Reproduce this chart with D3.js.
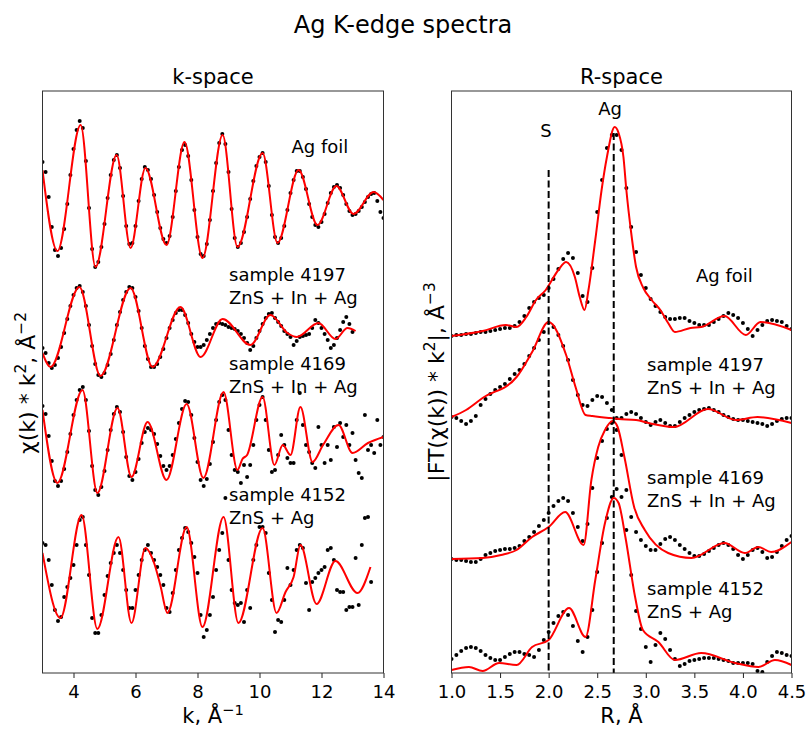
<!DOCTYPE html>
<html>
<head>
<meta charset="utf-8">
<script src="https://cdn.jsdelivr.net/npm/d3@7"></script>
<style>
  body { margin: 0; background: #fff; }
  text { font-family: "DejaVu Sans", sans-serif; fill: #000; }
</style>
</head>
<body>
<svg id="chart" width="806" height="730"></svg>
<script>
// ---------- k-space: chi(k)*k^2, experimental points (step 0.1 from k = 3) ----------
const kStart = 3.0, kStep = 0.1;
const agFoilK = [3.4,2.4,-0.1,-3.1,-5.4, -6.0,-5.2,-3.3,-0.8,2.1, 4.7,6.6,7.5,6.8,3.5,
  -1.2,-5.3,-7.1,-6.6,-5.1, -2.8,-0.2,2.1,3.6,4.1, 2.8,0.0,-3.0,-4.8,-4.7,
  -3.0,-0.5,1.7,2.9,2.6, 1.7,0.1,-1.6,-3.2,-4.3, -4.7,-4.0,-2.1,0.5,2.9,
  4.6,5.1,4.0,1.6,-1.4, -4.1,-5.8,-6.0,-4.8,-2.4, 0.5,3.3,5.3,6.2,5.2,
  2.4,-1.3,-4.2,-5.1,-4.7, -3.6,-2.1,-0.3,1.5,3.0, 3.9,4.3,3.4,1.0,-1.9,
  -4.1,-4.7,-4.2,-3.0,-1.4, 0.3,1.6,2.5,2.5,1.9, 0.7,-0.8,-2.1,-2.9,-3.1,
  -2.6,-1.8,-0.7,0.3,0.9, 1.1,0.8,0.1,-0.8,-1.5, -1.9,-1.8,-1.5,-1.1,-0.6,
  -0.1,0.2,0.3,-0.5,-1.6, -2.2];
const s4197K = [-1.5,-2.0,-3.0,-3.5,-3.2, -2.5,-1.4,0.0,1.4,2.7, 3.8,4.5,4.7,4.1,2.7,
  0.8,-1.3,-3.1,-4.2,-4.4, -4.0,-3.2,-2.1,-0.7,0.8, 2.1,3.3,4.1,4.6,4.5,
  3.6,2.2,0.5,-1.3,-2.6, -3.4,-3.4,-3.1,-2.4,-1.6, -0.5,0.5,1.3,2.0,2.3,
  2.3,1.8,1.0,-0.1,-0.9, -1.4,-1.4,-1.2,-0.7,-0.1, 0.5,0.9,1.0,0.9,0.8,
  0.6,0.5,0.4,0.2,-0.1, -0.5,-1.0,-1.7,-1.3,-0.5, 0.2,0.9,1.5,1.9,2.0,
  1.5,1.1,0.7,0.2,-0.1, -0.4,-1.2,-0.8,-0.4,-0.3, -0.2,-0.1,0.5,1.3,1.0,
  0.5,-0.1,-0.7,-1.5,-1.2, -0.5,0.3,1.1,1.6,0.9, 0.1];
const s4169K = [3.4,2.6,0.4,-2.1,-4.1, -4.6,-4.1,-2.9,-1.2,0.6, 2.5,4.0,5.0,5.3,4.0,
  0.9,-2.6,-5.0,-5.5,-4.7, -3.1,-1.0,1.0,2.6,3.3, 2.8,0.8,-1.7,-3.6,-4.0,
  -3.2,-1.9,-0.3,0.8,1.2, 1.0,0.6,-0.4,-1.6,-2.6, -3.0,-2.6,-1.5,0.1,1.7,
  3.1,3.9,3.8,2.5,0.2, -2.2,-4.0,-4.6,-3.9,-2.4, -0.2,2.0,3.8,4.5,4.0,
  1.0,-1.5,-3.0,-3.2,-4.3, -2.5,-3.7,-2.5,-0.5,2.0, 3.5,4.3,2.0,-1.0,-3.2,
  -3.0,-1.5,0.5,-0.5,-1.8, -2.3,-2.3,2.0,4.7,1.5, -0.5,-1.2,-2.3,-2.8,1.3,
  -0.5,-2.3,-0.5,-2.0,1.3, -0.7,1.7,0.3,1.5,-0.5, 0.7,-2.0,-3.3,-3.8,2.5,
  -1.0,-0.5,-1.3,2.0,-0.5, 0.3];
const s4152K = [3.2,3.0,1.5,-1.0,-3.5, -4.6,-4.2,-2.2,-1.2,-0.3, 1.0,3.0,5.5,5.8,3.0,
  0.0,-4.3,-5.8,-5.8,-4.0, -2.0,-0.1,1.2,2.2,3.0, 2.2,0.5,-1.5,-3.3,-3.3,
  -1.5,0.0,1.5,2.5,3.0, 2.2,1.5,0.8,0.0,-1.0, -3.3,-3.7,-1.8,0.5,2.5,
  3.7,4.7,4.3,3.2,1.8, 0.2,-4.0,-6.2,-5.5,-4.0, -2.2,0.5,2.5,4.2,7.7,
  1.5,-1.5,-2.8,-3.0,-2.8, -4.7,-1.5,-3.3,1.5,3.0, 4.8,4.8,4.2,0.2,-2.5,
  -5.7,-4.5,-4.7,-2.5,0.7, -1.0,0.5,2.5,3.0,2.7, -0.8,-3.5,-0.7,-0.3,0.2,
  0.5,0.8,2.5,2.7,1.5, -1.5,-1.7,-1.7,-3.5,-3.2, -3.2,1.7,-3.0,3.0,5.7,
  5.8,-0.7];

// k-space fits (knots at extrema)
const agFoilFitK = [3.0,3.48,4.23,4.71,5.39,5.84,6.32,7.0,7.58,8.16,8.81,9.29,10.1,10.58,11.26,11.87,12.48,13.03,13.68,14.0];
const agFoilFit  = [2.6,-5.5,7.1,-7.1,4.1,-5.2,2.8,-4.9,5.4,-6.2,6.1,-5.1,4.3,-4.7,2.6,-2.9,1.0,-1.8,0.4,-0.4];
const s4197FitK = [3.0,3.26,4.19,4.87,5.84,6.55,7.45,8.10,8.81,9.71,10.35,10.9,11.2,11.9,12.45,12.84,13.1];
const s4197Fit  = [-2.0,-3.4,4.6,-4.3,4.5,-3.4,2.6,-2.4,1.4,-1.2,1.8,0.0,-0.4,1.0,-0.6,0.5,0.2];
const s4169FitK = [3.0,3.48,4.29,4.77,5.42,5.87,6.39,7.0,7.65,8.19,8.84,9.29,9.45,9.6,10.1,10.48,10.75,11.0,11.32,11.71,12.05,12.55,13.0,13.5,14.0];
const s4169Fit  = [3.0,-4.3,5.0,-5.3,3.2,-3.7,1.8,-4.0,3.6,-3.8,4.8,-3.0,-1.9,-1.5,4.3,-2.5,-0.5,-1.5,3.3,-2.2,-0.5,1.5,-1.3,-0.3,0.3];
const s4152FitK = [3.0,3.58,4.26,4.77,5.45,5.87,6.32,6.6,6.8,7.03,7.65,8.16,8.84,9.32,10.1,10.55,10.84,11.1,11.32,11.84,12.45,13.16,13.58];
const s4152Fit  = [2.2,-4.3,6.0,-5.4,3.8,-4.8,2.7,1.2,-1.0,-3.8,4.8,-5.2,5.8,-4.8,4.7,-3.8,-1.7,-0.2,3.0,-2.9,1.4,-1.8,0.8];

// ---------- R-space: |FT(chi(k)*k^2)|, experimental points (step 0.05 from R = 1) ----------
const rStart = 1.0, rStep = 0.05;
const agFoilR = [0.4,0.5,0.5,0.6,0.6, 0.7,0.8,0.8,0.9,1.0, 1.1,1.2,1.2,1.4,1.8,
  2.4,3.2,3.8,4.2,4.5, 5.2,6.1,7.1,8.1,8.7, 8.2,6.7,4.4,3.8,7.2,
  12.8,16.0,19.2,20.5,20.5, 19.0,15.2,11.3,8.8,6.5, 5.2,4.1,3.4,2.8,2.3,
  2.1,2.1,2.2,2.2,1.9, 1.7,1.5,1.5,1.5,1.8, 2.1,2.4,2.7,2.5,2.2,
  1.7,1.1,0.4,1.0,1.5, 1.9,2.0,1.9,1.8,1.4, 1.1];
const s4197R = [1.3,1.2,0.9,0.6,0.9, 1.4,2.5,3.1,3.6,4.0, 4.3,4.6,5.1,5.6,6.0,
  6.6,7.4,8.2,9.0,9.8, 10.7,10.3,9.5,8.4,7.0, 5.0,3.5,2.5,2.4,3.0,
  3.4,3.3,2.7,2.0,1.2, 1.2,1.6,1.8,1.6,1.2, 0.8,0.5,0.8,1.0,0.7,
  0.4,0.4,0.8,1.2,1.5, 1.8,2.0,2.1,2.2,2.0, 1.8,1.5,1.3,1.1,1.0,
  1.0,0.9,0.8,0.7,0.6, 0.4,0.6,0.9,1.1,1.2, 1.2];
const s4169R = [0.6,0.5,0.5,0.4,0.3, 0.3,0.6,1.0,1.2,1.4, 1.5,1.6,1.6,1.7,1.9,
  2.4,2.8,3.3,3.9,4.5, 5.2,5.9,6.4,6.7,6.4, 5.2,3.8,2.4,4.1,7.7,
  10.7,12.4,13.6,14.2,13.5, 11.0,7.5,4.8,3.3,2.5, 1.9,1.5,1.5,2.1,2.6,
  2.8,2.5,2.0,1.6,1.2, 0.9,0.9,1.1,1.4,1.7, 2.0,2.2,2.0,1.6,1.0,
  0.6,1.0,1.5,1.7,1.3, 0.7,0.8,1.3,1.9,2.5, 2.9];
const s4152R = [1.6,2.0,2.4,2.7,2.8, 2.7,2.4,2.0,1.7,1.5, 1.5,1.8,2.1,2.3,2.3,
  2.1,2.0,1.8,2.5,3.5, 4.3,5.2,5.9,6.3,6.0, 4.9,3.4,2.3,3.8,6.5,
  10.3,13.2,15.7,17.8,18.6, 17.8,14.5,10.0,6.4,4.6, 2.8,1.3,3.0,4.2,3.6,
  2.5,1.6,0.9,1.1,1.4, 1.5,1.6,1.7,1.7,1.7, 1.6,1.5,1.4,1.2,1.2,
  1.2,1.2,1.1,0.4,0.3, 1.3,1.9,2.3,2.2,2.0, 1.9];

// R-space fits
const agFoilFitR = [1.0,1.32,1.56,1.67,1.77,1.87,1.97,2.10,2.18,2.27,2.32,2.37,2.41,2.48,2.545,2.60,2.68,2.72,2.77,2.80,2.85,2.90,2.975,3.06,3.15,3.23,3.30,3.46,3.57,3.81,4.03,4.18,4.5];
const agFoilFitRv = [0.4,0.9,1.5,1.3,2.3,4.0,5.0,7.0,7.8,6.3,4.3,3.0,5.0,10.0,15.0,18.3,21.3,20.7,18.3,15.0,10.7,7.3,5.2,4.0,3.0,1.7,0.8,1.2,1.3,2.4,0.5,1.8,1.0];
const s4197FitR = [1.0,1.15,1.32,1.67,1.83,2.0,2.18,2.28,2.38,2.45,2.62,2.72,2.90,3.03,3.29,3.64,3.93,4.15,4.5];
const s4197FitRv = [1.3,2.0,3.2,5.3,7.8,10.8,7.5,4.2,1.5,1.4,1.2,1.1,1.0,0.7,0.3,2.1,1.0,1.3,0.7];
const s4169FitR = [1.0,1.32,1.51,1.67,1.83,2.0,2.17,2.36,2.44,2.51,2.58,2.66,2.71,2.78,2.88,2.99,3.23,3.47,3.81,4.02,4.16,4.29,4.5];
const s4169FitRv = [0.6,0.7,1.0,1.5,2.8,3.8,5.3,2.0,8.5,11.8,13.5,14.4,13.8,10.8,5.8,3.5,1.2,0.7,2.2,1.2,1.8,1.3,2.3];
const s4152FitR = [1.0,1.18,1.32,1.49,1.67,1.83,2.0,2.21,2.38,2.48,2.58,2.67,2.72,2.79,2.89,2.97,3.13,3.30,3.57,3.92,4.16,4.33,4.5];
const s4152FitRv = [0.5,0.8,0.4,1.2,1.0,2.8,3.5,6.7,3.8,9.5,15.2,17.7,17.2,13.8,7.8,4.5,3.3,1.5,2.2,1.2,0.8,1.5,1.0];

// vertical offsets of the stacked spectra
const kOffsets = [47.7, 34.0, 23.3, 9.8];
const rOffsets = [33.3, 24.3, 10.8, -0.2];

const kTicks = [4, 6, 8, 10, 12, 14];
const rTicks = [1.0, 1.5, 2.0, 2.5, 3.0, 3.5, 4.0, 4.5];

// reference distances marked in R-space
const refLines = [{name: "S", r: 2.0, top: 50.3}, {name: "Ag", r: 2.67, top: 54.0}];

// ---------- layout ----------
const plotTop = 91, plotBottom = 673;
const svg = d3.select("#chart");

const y = d3.scaleLinear().domain([0, 58.2]).range([plotBottom, plotTop]);
const xK = d3.scaleLinear().domain([3, 14]).range([42.5, 383.5]);
const xR = d3.scaleLinear().domain([1, 4.5]).range([451.5, 791.5]);

function makePanel(id, x, ticks, fmt) {
  const [x0, x1] = x.range();
  svg.append("clipPath").attr("id", id).append("rect")
    .attr("x", x0).attr("y", plotTop).attr("width", x1 - x0).attr("height", plotBottom - plotTop);
  const g = svg.append("g").attr("clip-path", `url(#${id})`);

  svg.append("g")
    .attr("transform", `translate(0,${plotBottom})`)
    .call(d3.axisBottom(x).tickValues(ticks).tickFormat(fmt).tickSize(5).tickPadding(7))
    .attr("font-size", 18)
    .attr("font-family", "DejaVu Sans, sans-serif")
    .call(a => a.select(".domain").remove())
    .call(a => a.selectAll("line").attr("stroke", "#222"));
  return g;
}

function drawDots(g, x, start, step, vals, off) {
  g.append("g").selectAll("circle").data(vals).join("circle")
    .attr("cx", (d, i) => x(start + i * step))
    .attr("cy", d => y(off + d))
    .attr("r", 2)
    .attr("fill", "#000");
}

function drawFit(g, x, xs, vals, off) {
  const line = d3.line()
    .x(d => x(d[0]))
    .y(d => y(off + d[1]))
    .curve(d3.curveMonotoneX);
  g.append("path")
    .datum(xs.map((v, i) => [v, vals[i]]))
    .attr("d", line)
    .attr("fill", "none")
    .attr("stroke", "#ff0000")
    .attr("stroke-width", 2);
}

function frame(x) {
  const [x0, x1] = x.range();
  svg.append("rect")
    .attr("x", x0).attr("y", plotTop)
    .attr("width", x1 - x0).attr("height", plotBottom - plotTop)
    .attr("fill", "none").attr("stroke", "#333").attr("stroke-width", 1);
}

// k-space panel
const gK = makePanel("clipK", xK, kTicks, d => d);
const kDots = [agFoilK, s4197K, s4169K, s4152K];
const kFits = [[agFoilFitK, agFoilFit], [s4197FitK, s4197Fit], [s4169FitK, s4169Fit], [s4152FitK, s4152Fit]];
kDots.forEach((vals, i) => drawDots(gK, xK, kStart, kStep, vals, kOffsets[i]));
kFits.forEach((f, i) => drawFit(gK, xK, f[0], f[1], kOffsets[i]));
frame(xK);

// R-space panel
const gR = makePanel("clipR", xR, rTicks, d3.format(".1f"));
const rDots = [agFoilR, s4197R, s4169R, s4152R];
const rFits = [[agFoilFitR, agFoilFitRv], [s4197FitR, s4197FitRv], [s4169FitR, s4169FitRv], [s4152FitR, s4152FitRv]];
rDots.forEach((vals, i) => drawDots(gR, xR, rStart, rStep, vals, rOffsets[i]));
rFits.forEach((f, i) => drawFit(gR, xR, f[0], f[1], rOffsets[i]));

refLines.forEach(l => {
  gR.append("line")
    .attr("x1", xR(l.r)).attr("x2", xR(l.r))
    .attr("y1", y(l.top)).attr("y2", plotBottom)
    .attr("stroke", "#000").attr("stroke-width", 2)
    .attr("stroke-dasharray", "7,3.5");
});
frame(xR);

// reference line names
svg.append("text").attr("x", 546).attr("y", 137).attr("text-anchor", "middle").attr("font-size", 18).text("S");
svg.append("text").attr("x", 610).attr("y", 115).attr("text-anchor", "middle").attr("font-size", 18).text("Ag");

// sample annotations
const kNotes = [
  {x: 291.5, y: 153, lines: ["Ag foil"]},
  {x: 229, y: 281, lines: ["sample 4197", "ZnS + In + Ag"]},
  {x: 229, y: 370, lines: ["sample 4169", "ZnS + In + Ag"]},
  {x: 229, y: 501, lines: ["sample 4152", "ZnS + Ag"]}
];
const rNotes = [
  {x: 696, y: 282, lines: ["Ag foil"]},
  {x: 647, y: 371, lines: ["sample 4197", "ZnS + In + Ag"]},
  {x: 647, y: 484, lines: ["sample 4169", "ZnS + In + Ag"]},
  {x: 647, y: 595, lines: ["sample 4152", "ZnS + Ag"]}
];
kNotes.concat(rNotes).forEach(n => {
  const t = svg.append("text").attr("font-size", 18);
  n.lines.forEach((s, j) => t.append("tspan").attr("x", n.x).attr("y", n.y + j * 22.5).text(s));
});

// titles
svg.append("text").attr("x", 403).attr("y", 33).attr("text-anchor", "middle")
  .attr("font-size", 24).text("Ag K-edge spectra");
svg.append("text").attr("x", (xK.range()[0] + xK.range()[1]) / 2).attr("y", 84)
  .attr("text-anchor", "middle").attr("font-size", 21).text("k-space");
svg.append("text").attr("x", (xR.range()[0] + xR.range()[1]) / 2).attr("y", 84)
  .attr("text-anchor", "middle").attr("font-size", 21).text("R-space");

// axis labels with superscripts
function label(parts, size, transform, anchorX, anchorY) {
  const t = svg.append("text")
    .attr("text-anchor", "middle")
    .attr("font-size", size);
  if (transform) t.attr("transform", transform).attr("dy", "0.35em");
  else t.attr("x", anchorX).attr("y", anchorY);
  parts.forEach(p => {
    const s = t.append("tspan").text(p[0]);
    if (p[1]) s.attr("baseline-shift", "super").attr("font-size", "70%");
  });
}
label([["k, Å"], ["−1", true]], 21, null, 213, 723);
label([["R, Å"]], 21, null, 621.5, 723);
label([["χ(k) * k"], ["2", true], [", Å"], ["−2", true]], 22, "translate(27,383) rotate(-90)");
label([["|FT(χ(k)) * k"], ["2", true], ["|, Å"], ["−3", true]], 22, "translate(436,382) rotate(-90)");
</script>
</body>
</html>
